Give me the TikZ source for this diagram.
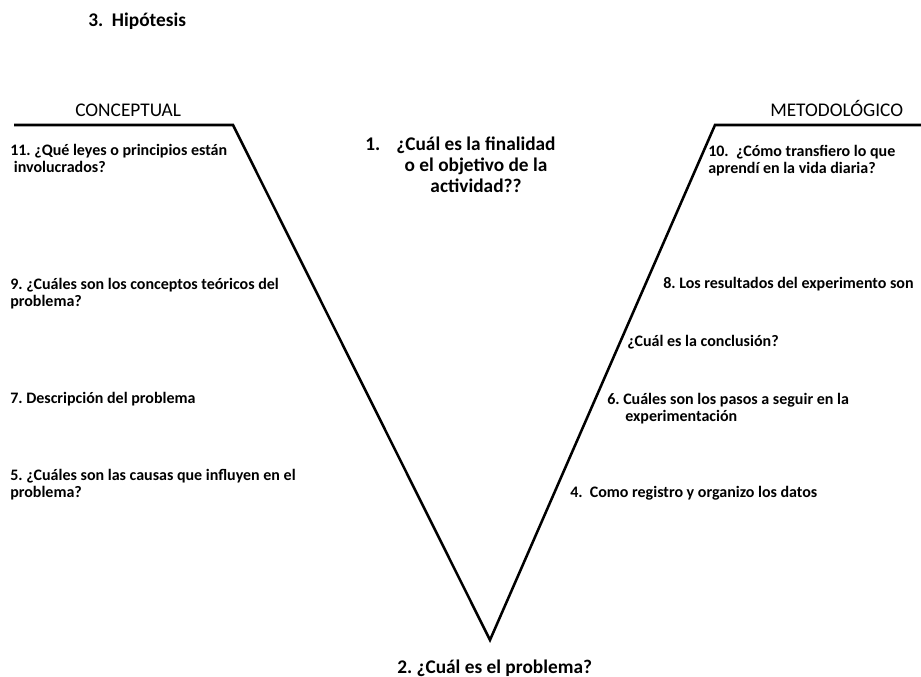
\documentclass[tikz,border=0pt]{standalone}
\usepackage{fontspec}
\setmainfont{Carlito}
\frenchspacing
\begin{document}
\begin{tikzpicture}[x=0.75pt,y=-0.75pt,
  small/.style={font=\bfseries\fontsize{12}{12.75}\selectfont,inner sep=0pt,anchor=base west,align=left},
  big/.style={font=\bfseries\fontsize{14.5}{15.75}\selectfont,inner sep=0pt},
  head/.style={font=\fontsize{14.5}{16}\selectfont,inner sep=0pt,anchor=base west},
  vline/.style={line width=1.9pt,line join=miter}]
\useasboundingbox (0,0) rectangle (921,677);
% V shape
\coordinate (l0) at (14,125);
\coordinate (l1) at (233,125);
\coordinate (v) at (490,640);
\coordinate (r1) at (715,125);
\coordinate (r0) at (921,125);
\draw[vline] (l0) -- (l1) -- (v) -- (r1) -- (r0);
% headings
\node[big,anchor=base west] (hip) at (88,27) {3.\ \ Hipótesis};
\node[head] (conc) at (75,117) {CONCEPTUAL};
\node[head] (meto) at (770,117) {METODOLÓGICO};
% center
\node[big,anchor=base west] (n1) at (365,151) {1.};
\node[big,anchor=base,align=center] (q1) at (476,193) {¿Cuál es la finalidad\\o el objetivo de la\\actividad??};
\node[big,anchor=base west] (q2) at (397,673) {2. ¿Cuál es el problema?};
% left
\node[small] (q11) at (10,173) {11. ¿Qué leyes o principios están\\\ involucrados?};
\node[small] (q9) at (10,306) {9. ¿Cuáles son los conceptos teóricos del\\problema?};
\node[small] (q7) at (10,403) {7. Descripción del problema};
\node[small] (q5) at (10,497) {5. ¿Cuáles son las causas que influyen en el\\problema?};
% right
\node[small] (q10) at (708,174) {10.\ \ ¿Cómo transfiero lo que\\aprendí en la vida diaria?};
\node[small] (q8) at (663,289) {8. Los resultados del experimento son};
\node[small] (qc) at (627,346) {¿Cuál es la conclusión?};
\node[small] (q6) at (607,421) {6. Cuáles son los pasos a seguir en la\\\hspace*{13.5pt}experimentación};
\node[small] (q4) at (570,497) {4.\ \ Como registro y organizo los datos};
\end{tikzpicture}
\end{document}
